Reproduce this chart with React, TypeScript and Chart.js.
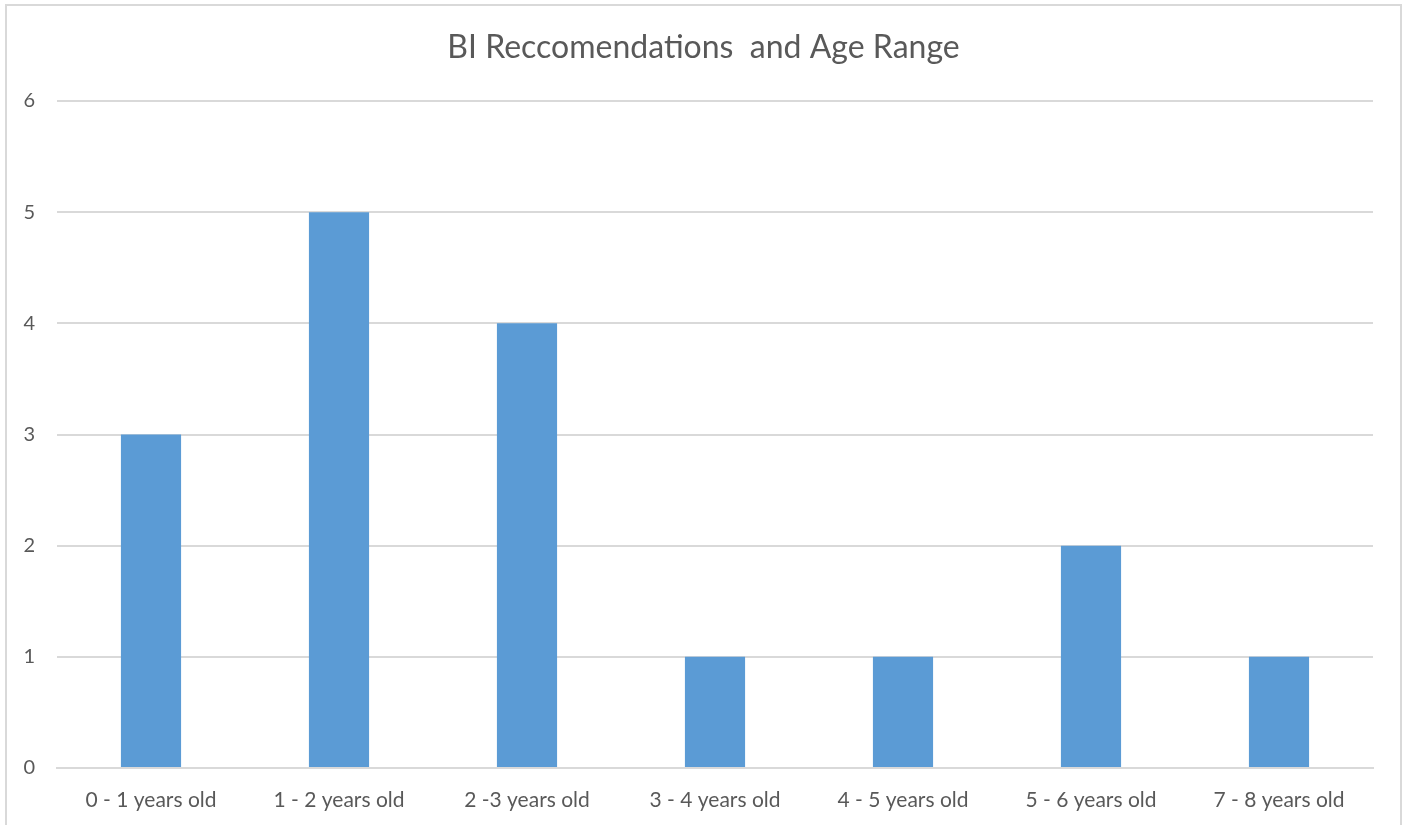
import React, { useEffect, useRef } from "react";
import { Chart, registerables } from "chart.js";

Chart.register(...registerables);

const title = "BI Reccomendations  and Age Range";
const categories = [
  "0 - 1 years old",
  "1 - 2 years old",
  "2 -3 years old",
  "3 - 4 years old",
  "4 - 5 years old",
  "5 - 6 years old",
  "7 - 8 years old",
];
const values = [3, 5, 4, 1, 1, 2, 1];
const yTicks = [0, 1, 2, 3, 4, 5, 6];

const FONT = "Lato, 'Open Sans', sans-serif";
const TEXT = "#595959";
const GRID = "#d9d9d9";

const titlePlugin = {
  id: "centerTitle",
  afterDraw(chart: any) {
    const ctx = chart.ctx;
    ctx.save();
    ctx.font = `32px ${FONT}`;
    ctx.fillStyle = TEXT;
    ctx.textAlign = "center";
    ctx.textBaseline = "middle";
    ctx.fillText(title, chart.width / 2, 48);
    ctx.restore();
  },
};

export default function App() {
  const ref = useRef<HTMLCanvasElement | null>(null);
  useEffect(() => {
    if (!ref.current) return;
    const chart = new Chart(ref.current, {
      type: "bar",
      data: {
        labels: categories,
        datasets: [
          {
            data: values,
            backgroundColor: "#5b9bd5",
            barPercentage: 0.32,
            categoryPercentage: 1,
          },
        ],
      },
      plugins: [titlePlugin],
      options: {
        animation: false,
        responsive: false,
        maintainAspectRatio: false,
        layout: { padding: { left: 0, right: 34, top: 101, bottom: 0 } },
        plugins: {
          legend: { display: false },
          tooltip: { enabled: false },
          title: { display: false },
        },
        scales: {
          x: {
            grid: { display: false },
            border: { display: true, color: GRID, width: 2 },
            ticks: {
              color: TEXT,
              font: { family: FONT, size: 21 },
              padding: 12,
              maxRotation: 0,
              autoSkip: false,
            },
            afterFit: (s: any) => {
              s.height = 57;
            },
          },
          y: {
            min: 0,
            max: 6,
            afterBuildTicks: (s: any) => {
              s.ticks = yTicks.map((v) => ({ value: v }));
            },
            grid: { color: GRID, lineWidth: 2, drawTicks: false },
            border: { display: false },
            ticks: {
              color: TEXT,
              font: { family: FONT, size: 20 },
              padding: 22,
            },
            afterFit: (s: any) => {
              s.width = 57;
            },
          },
        },
      },
    });
    return () => chart.destroy();
  }, []);
  return (
    <div
      style={{
        position: "fixed",
        left: 0,
        top: 0,
        width: 1407,
        height: 825,
        background: "#fff",
        overflow: "hidden",
      }}
    >
      <canvas ref={ref} width={1407} height={825} style={{ position: "absolute", left: 0, top: 0 }} />
      <div
        style={{
          position: "absolute",
          left: 5,
          top: 4,
          width: 1397,
          height: 840,
          border: "2px solid #d9d9d9",
          boxSizing: "border-box",
          pointerEvents: "none",
        }}
      />
    </div>
  );
}
